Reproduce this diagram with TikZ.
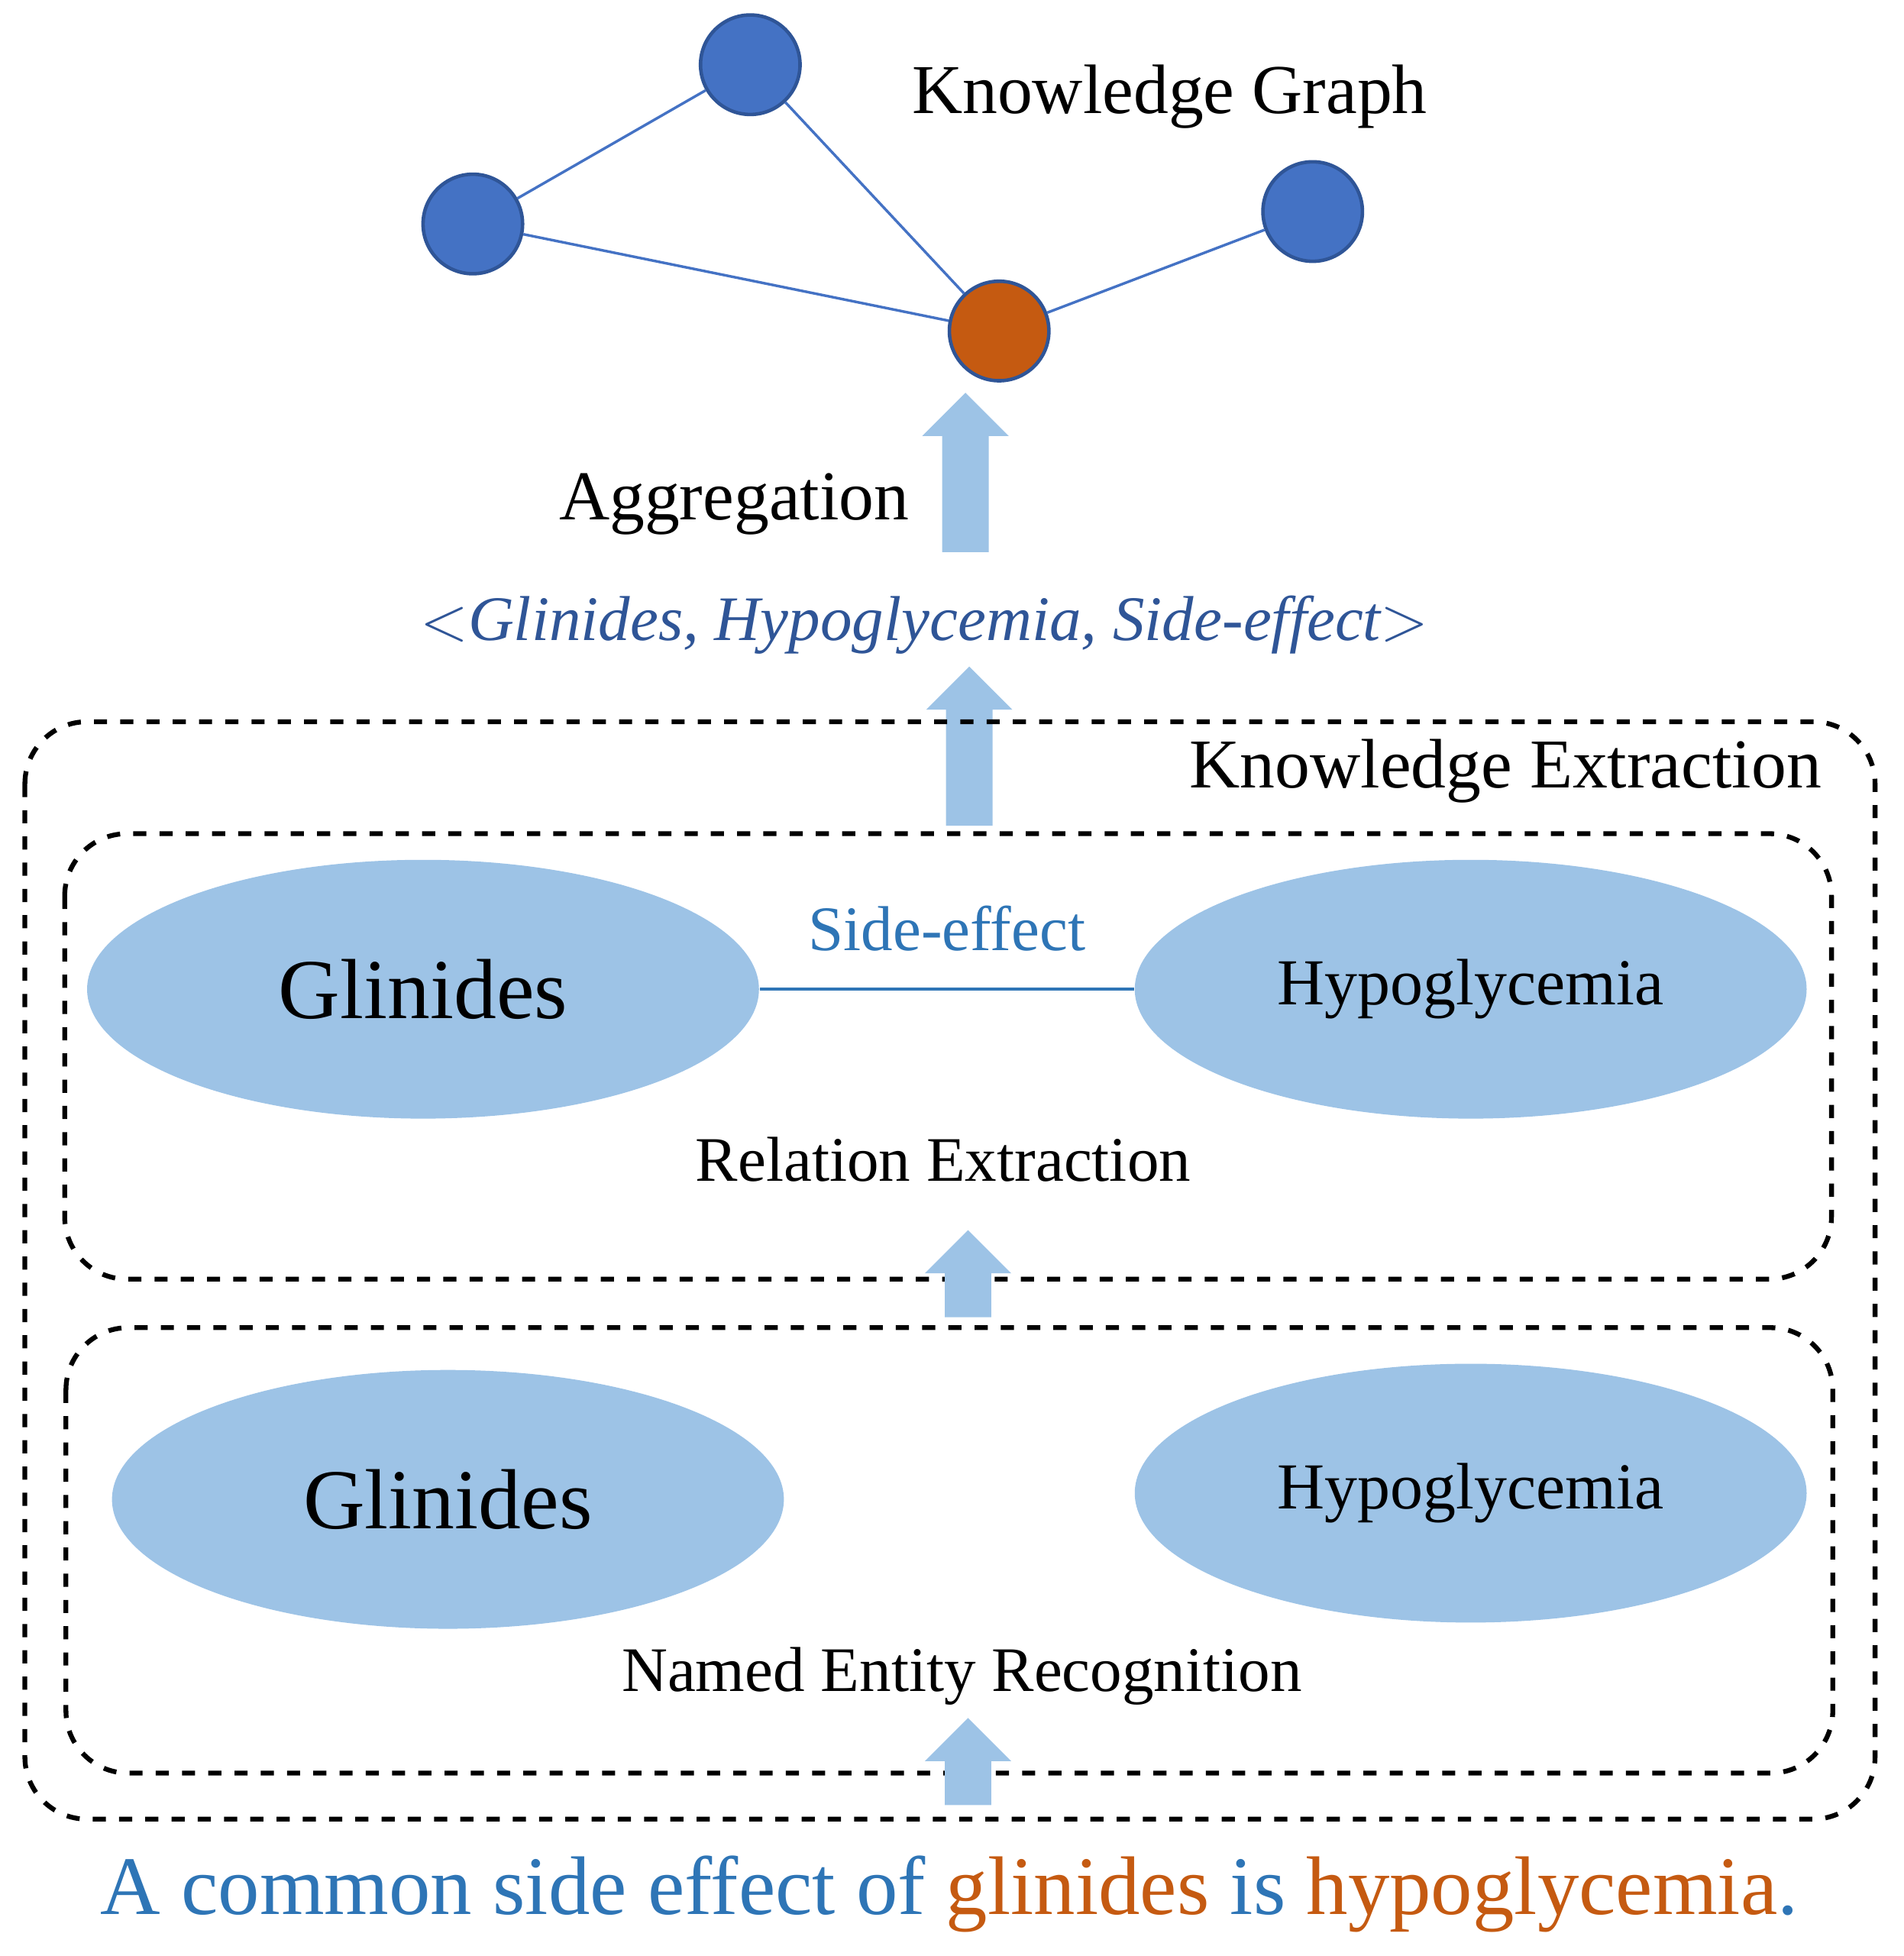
\documentclass[tikz,border=0pt]{standalone}
\usepackage{fontspec}
\setmainfont{Liberation Serif}
\usetikzlibrary{shapes.geometric,shapes.arrows}
\definecolor{kgblue}{HTML}{4472C4}
\definecolor{kgorange}{HTML}{C55A11}
\definecolor{entfill}{HTML}{9DC3E6}
\definecolor{txtblue}{HTML}{2E75B6}
\definecolor{tripblue}{HTML}{2F5597}
\tikzstyle{kgNode}=[circle,draw=tripblue,thick,fill=kgblue,minimum size=80*0.01cm,inner sep=0pt]
\tikzstyle{kgEdge}=[draw=kgblue,line width=0.6pt]
\tikzset{
	entity/.style={
		shape=ellipse,
		fill=entfill,
		minimum width=540*0.01cm,
		minimum height=208*0.01cm,
		inner sep=0pt
	},
	stage/.style={
		draw,
		dashed,
		line width=1.1pt,
		rounded corners=50*0.01cm
	},
	upArrow/.style={
		single arrow,
		fill=entfill,
		shape border rotate=90,
		minimum width=68*0.01cm,
		inner sep=18*0.01cm,
		single arrow head extend=16*0.01cm,
		single arrow head indent=0pt
	}
}

\begin{document}
\begin{tikzpicture}[x={(0.01cm,0)},y={(0,-0.01cm)}]
\useasboundingbox (0,0) rectangle (1530,1572);

% knowledge graph
\node[kgNode] (n1) at (603,52) {};
\node[kgNode] (n2) at (380,180) {};
\node[kgNode,fill=kgorange] (n3) at (803,266) {};
\node[kgNode] (n4) at (1055,170) {};
\draw[kgEdge] (n2) -- (n1);
\draw[kgEdge] (n1) -- (n3);
\draw[kgEdge] (n2) -- (n3);
\draw[kgEdge] (n3) -- (n4);
\node (kg) at (940,78) {\fontsize{16}{19}\selectfont Knowledge Graph};

\node[upArrow,minimum height=128*0.01cm] (a1) at (776,389) {};
\node (agg) at (590,405) {\fontsize{16}{19}\selectfont Aggregation};
\node[text=tripblue] (triple) at (743,502) {\fontsize{14.5}{17}\selectfont\itshape $<$Glinides, Hypoglycemia, Side-effect$>$};
\node[upArrow,minimum height=128*0.01cm] (a2) at (779,609) {};

% extraction boxes
\draw[stage] (20,580) rectangle (1507,1462);
\node (ke) at (1210,620) {\fontsize{16}{19}\selectfont Knowledge Extraction};
\draw[stage] (52,670) rectangle (1472,1028);
\draw[stage] (53,1067) rectangle (1473,1425);

\node[entity] (g1) at (340,795) {\fontsize{19.5}{23}\selectfont Glinides};
\node[entity] (h1) at (1182,795) {\fontsize{15}{18}\selectfont Hypoglycemia};
\draw[kgEdge,draw=txtblue] (g1) -- (h1) node[midway,above=5pt,text=txtblue] {\fontsize{14.5}{17}\selectfont Side-effect};
\node (re) at (758,932) {\fontsize{14.5}{17}\selectfont Relation Extraction};
\node[upArrow,minimum height=70*0.01cm] (a3) at (778,1033) {};

\node[entity] (g2) at (360,1205) {\fontsize{19.5}{23}\selectfont Glinides};
\node[entity] (h2) at (1182,1200) {\fontsize{15}{18}\selectfont Hypoglycemia};
\node (ner) at (773,1347) {\fontsize{14.5}{17}\selectfont Named Entity Recognition};
\node[upArrow,minimum height=70*0.01cm] (a4) at (778,1425) {};

\node (sent) at (763,1522) {\fontsize{19}{23}\selectfont\color{txtblue}A common side effect of \color{kgorange}glinides \color{txtblue}is \color{kgorange}hypoglycemia\color{txtblue}.};
\end{tikzpicture}
\end{document}
